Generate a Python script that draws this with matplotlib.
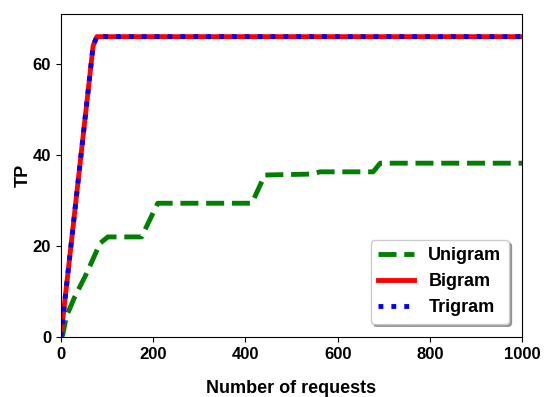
import matplotlib
matplotlib.use('Agg')
import matplotlib.pyplot as plt

plt.rcParams['font.family'] = ['Liberation Sans', 'DejaVu Sans']
plt.rcParams['font.weight'] = 'bold'

# data
uni_x = [0, 4, 12, 30, 52, 59, 85, 102, 175, 210, 414, 442, 540, 562, 677, 692, 1000]
uni_y = [0, 0.4, 4.5, 8.8, 13.2, 14.7, 20.6, 22, 22, 29.4, 29.4, 35.6, 35.8, 36.3, 36.3, 38.2, 38.2]
bi_x = [0, 70, 78, 1000]
bi_y = [0, 64, 66, 66]
tri_x = [0, 70, 78, 1000]
tri_y = [0, 64, 66, 66]

fig, ax = plt.subplots(figsize=(5.48, 3.97), dpi=100)
ax.plot(uni_x, uni_y, color='green', linestyle='--', linewidth=3.5, label='Unigram')
ax.plot(bi_x, bi_y, color='red', linestyle='-', linewidth=3.5, label='Bigram')
ax.plot(tri_x, tri_y, color='blue', linestyle=':', linewidth=3.5, label='Trigram')

ax.set_xlim(0, 1000)
ax.set_ylim(0, 71)
ax.set_xticks([0, 200, 400, 600, 800, 1000])
ax.set_yticks([0, 20, 40, 60])
ax.tick_params(labelsize=12)
ax.set_xlabel('Number of requests', fontsize=13, fontweight='bold', labelpad=13)
ax.set_ylabel('TP', fontsize=13, fontweight='bold', labelpad=1)
ax.legend(loc='lower right', shadow=True, borderaxespad=0.75,
          prop={'weight': 'bold', 'size': 13})

fig.subplots_adjust(left=0.111, right=0.953, top=0.965, bottom=0.151)
fig.savefig('out.png', dpi=100)
